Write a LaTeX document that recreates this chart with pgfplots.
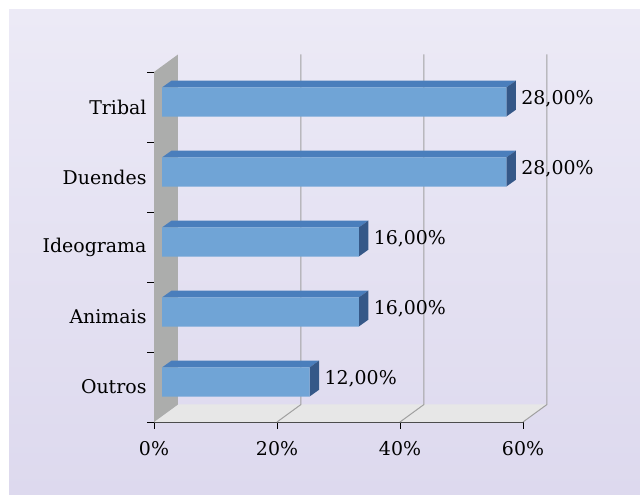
\documentclass[border=0pt]{standalone}
\usepackage{pgfplots}
\pgfplotsset{compat=1.18}
\usepackage{fontspec}
\setmainfont{DejaVu Serif}
\definecolor{bgtop}{RGB}{236,234,246}
\definecolor{bgbot}{RGB}{221,217,238}
\definecolor{barfront}{RGB}{112,164,214}
\definecolor{bartop}{RGB}{74,126,188}
\definecolor{barside}{RGB}{53,88,136}
\definecolor{wall}{RGB}{172,173,172}
\definecolor{floorc}{RGB}{231,231,231}
\definecolor{gridc}{RGB}{160,160,160}
\newcommand{\lbl}{\fontsize{19}{23}\selectfont}
\begin{document}
\begin{tikzpicture}[x=1bp,y=1bp]
\fill[white] (0,0) rectangle (640,495);
\shade[top color=bgtop,bottom color=bgbot] (9,0) rectangle (640,485);
\useasboundingbox (0,0) rectangle (640,495);
\begin{axis}[
  at={(154bp,73bp)}, anchor=south west,
  scale only axis, width=369bp, height=350bp,
  xmin=0, xmax=60, ymin=-0.5, ymax=4.5,
  clip=false,
  axis x line*=bottom, axis y line*=left,
  axis line style={-},
  x axis line style={draw=black!70, line width=0.8bp},
  y axis line style={draw=wall},
  xtick={0,20,40,60},
  xticklabels={0\%,20\%,40\%,60\%},
  ytick={0,1,2,3,4},
  yticklabels={Outros,Animais,Ideograma,Duendes,Tribal},
  minor ytick={-0.5,0.5,1.5,2.5,3.5,4.5},
  tick align=outside,
  major tick length=7bp, minor tick length=7bp,
  tick style={black, line width=0.8bp},
  major y tick style={draw=none},
  xticklabel style={font=\lbl, yshift=-9bp},
  yticklabel style={font=\lbl, anchor=east, xshift=3bp},
]
% floor and left wall
\addplot[fill=floorc, draw=none, forget plot] coordinates {(0,-0.5) (60,-0.5) (63.9,-0.25) (3.9,-0.25)} --cycle;
\addplot[fill=wall, draw=none, forget plot] coordinates {(0,-0.5) (3.9,-0.25) (3.9,4.75) (0,4.5)} --cycle;
% gridlines (floor + back wall)
\addplot[gridc, line width=1bp, forget plot] coordinates {(20,-0.5) (23.9,-0.25) (23.9,4.75)};
\addplot[gridc, line width=1bp, forget plot] coordinates {(40,-0.5) (43.9,-0.25) (43.9,4.75)};
\addplot[gridc, line width=1bp, forget plot] coordinates {(60,-0.5) (63.9,-0.25) (63.9,4.75)};
% bar top faces
\addplot[fill=bartop, draw=none, forget plot] coordinates {(1.3,4.279) (57.3,4.279) (58.845,4.376) (2.845,4.376)} --cycle;
\addplot[fill=bartop, draw=none, forget plot] coordinates {(1.3,3.279) (57.3,3.279) (58.845,3.376) (2.845,3.376)} --cycle;
\addplot[fill=bartop, draw=none, forget plot] coordinates {(1.3,2.279) (33.3,2.279) (34.845,2.376) (2.845,2.376)} --cycle;
\addplot[fill=bartop, draw=none, forget plot] coordinates {(1.3,1.279) (33.3,1.279) (34.845,1.376) (2.845,1.376)} --cycle;
\addplot[fill=bartop, draw=none, forget plot] coordinates {(1.3,0.279) (25.3,0.279) (26.845,0.376) (2.845,0.376)} --cycle;
% bar side faces
\addplot[fill=barside, draw=none, forget plot] coordinates {(57.3,3.864) (58.845,3.961) (58.845,4.376) (57.3,4.279)} --cycle;
\addplot[fill=barside, draw=none, forget plot] coordinates {(57.3,2.864) (58.845,2.961) (58.845,3.376) (57.3,3.279)} --cycle;
\addplot[fill=barside, draw=none, forget plot] coordinates {(33.3,1.864) (34.845,1.961) (34.845,2.376) (33.3,2.279)} --cycle;
\addplot[fill=barside, draw=none, forget plot] coordinates {(33.3,0.864) (34.845,0.961) (34.845,1.376) (33.3,1.279)} --cycle;
\addplot[fill=barside, draw=none, forget plot] coordinates {(25.3,-0.136) (26.845,-0.039) (26.845,0.376) (25.3,0.279)} --cycle;
% bar front faces
\addplot[xbar, bar width=0.415, xshift=8bp, yshift=5bp, fill=barfront, draw=none]
  coordinates {(24,0) (32,1) (32,2) (56,3) (56,4)};
% value labels
\addplot[draw=none, mark=none, nodes near coords, point meta=explicit symbolic,
  nodes near coords style={anchor=base west, xshift=22.8bp, yshift=2bp, font=\lbl, inner sep=0pt, text=black}]
  coordinates {(24,0) [12,00\%] (32,1) [16,00\%] (32,2) [16,00\%] (56,3) [28,00\%] (56,4) [28,00\%]};
\end{axis}
\end{tikzpicture}
\end{document}
